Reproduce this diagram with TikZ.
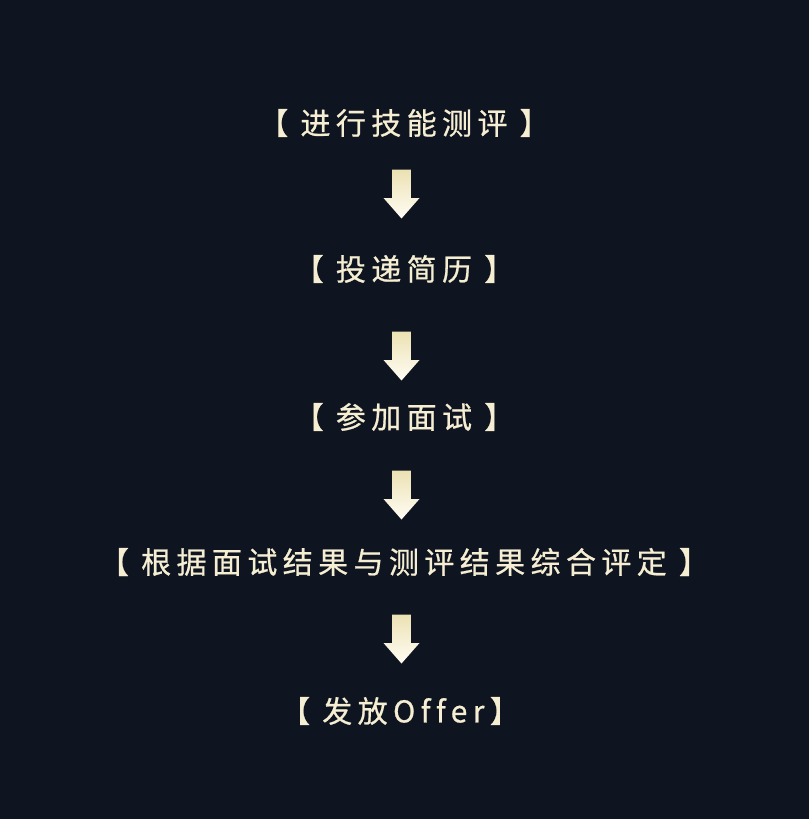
\documentclass[tikz,border=0pt]{standalone}
\usepackage{fontspec}
\newfontfamily\cjk[LetterSpace=18,FakeBold=0.7,Ligatures=NoCommon]{Noto Sans CJK SC}
\definecolor{bg}{HTML}{0E1420}
\definecolor{txt}{HTML}{F6EED2}
\definecolor{arrtop}{HTML}{ECE1B3}
\definecolor{arrbot}{HTML}{FFFDF5}
\tikzset{
  step label/.style={text=txt, font=\cjk\fontsize{30}{36}\selectfont, inner sep=0pt, anchor=center},
  downarrow/.pic={
    \shade[top color=arrtop, bottom color=arrbot]
      (-9.3,0) -- (9.3,0) -- (9.3,28.5) -- (18,28.5) -- (0,49) -- (-18,28.5) -- (-9.3,28.5) -- cycle;
  }
}
\begin{document}
\begin{tikzpicture}[x=1pt,y=-1pt]
\fill[bg] (0,0) rectangle (809,819);
\useasboundingbox (0,0) rectangle (809,819);
\node[step label] (t1) at (404,123) {【 进行技能测评 】};
\node[step label] (t2) at (404,269) {【 投递简历 】};
\node[step label] (t3) at (404,417) {【 参加面试 】};
\node[step label] (t4) at (404,562) {【 根据面试结果与测评结果综合评定 】};
\node[step label] (t5) at (400,711) {【 发放Offer】};
\pic (a1) at (401.5,169.5) {downarrow};
\pic (a2) at (401.5,331.5) {downarrow};
\pic (a3) at (401.5,470.5) {downarrow};
\pic (a4) at (401.5,614.5) {downarrow};
\end{tikzpicture}
\end{document}
